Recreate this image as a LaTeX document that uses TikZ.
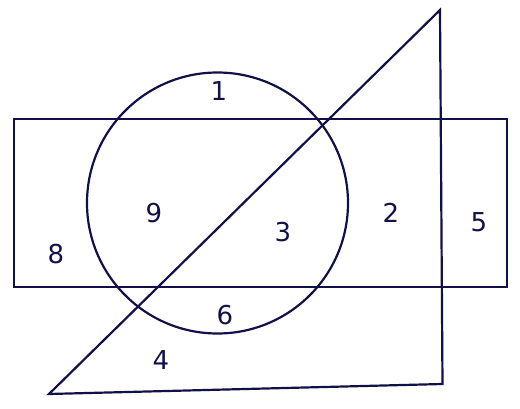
\documentclass[tikz,border=0pt]{standalone}
\usepackage{fontspec}
\setmainfont{DejaVu Sans}
\usepackage{tikz}
\definecolor{ink}{RGB}{18,16,72}

\begin{document}
\begin{tikzpicture}[x=1pt, y=-1pt,
                        outline/.style = {draw=ink, line width=2.2pt},
                        region/.style = {text=ink, inner sep=0pt,
                        font=\fontsize{26}{30}\selectfont}]
        \useasboundingbox (0,0) rectangle (520,409);

        % shapes
        \draw[outline] (14,119) rectangle (507,287);
        \draw[outline] (217.5,203) circle (130.5);
        \coordinate (top) at (440,10);
        \coordinate (left) at (49,394);
        \coordinate (right) at (442.5,384);
        \draw[outline, line join=miter] (top) -- (left) -- (right) -- cycle;

        % region numbers
        \node[region] (r1) at (219,91) {1};
        \node[region] (r2) at (391,213) {2};
        \node[region] (r3) at (283,232) {3};
        \node[region] (r4) at (161,360) {4};
        \node[region] (r5) at (479,222) {5};
        \node[region] (r6) at (225,315) {6};
        \node[region] (r8) at (56,254) {8};
        \node[region] (r9) at (154,213) {9};
    \end{tikzpicture}
\end{document}
